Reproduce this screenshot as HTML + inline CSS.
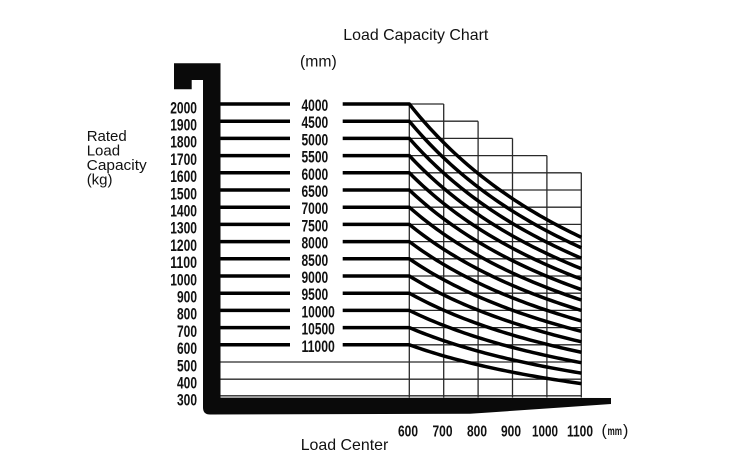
<!DOCTYPE html>
<html>
<head>
<meta charset="utf-8">
<style>
  html, body { margin:0; padding:0; background:#fff; }
  body { width:750px; height:467px; overflow:hidden; }
  svg { display:block; }
  .lbl { font-family:"Liberation Sans", sans-serif; font-weight:bold; font-size:16.3px; fill:#111; }
  .xl { font-family:"Liberation Sans", sans-serif; font-weight:bold; font-size:15.5px; fill:#111; }
  .reg { font-family:"Liberation Sans", sans-serif; font-size:16px; fill:#111; }
  .side { font-family:"Liberation Sans", sans-serif; font-size:15px; fill:#111; }
</style>
</head>
<body>
<svg id="chart" width="750" height="467" viewBox="0 0 750 467" xmlns="http://www.w3.org/2000/svg">
  <!-- titles -->
  <text class="reg" x="343.3" y="40" textLength="145" lengthAdjust="spacingAndGlyphs">Load Capacity Chart</text>
  <text class="reg" x="300" y="66.5" textLength="36.7" lengthAdjust="spacingAndGlyphs">(mm)</text>
  <text class="side" x="86.7" y="141">Rated</text>
  <text class="side" x="86.7" y="155.5">Load</text>
  <text class="side" x="86.7" y="170" textLength="60" lengthAdjust="spacingAndGlyphs">Capacity</text>
  <text class="side" x="86.7" y="184.5">(kg)</text>
  <text class="reg" x="300.7" y="450" textLength="87.6" lengthAdjust="spacingAndGlyphs">Load Center</text>

  <!-- y axis labels -->
  <g>
    <text class="lbl" x="197" y="113.3" text-anchor="end" textLength="26.8" lengthAdjust="spacingAndGlyphs">2000</text>
    <text class="lbl" x="197" y="130.5" text-anchor="end" textLength="26.8" lengthAdjust="spacingAndGlyphs">1900</text>
    <text class="lbl" x="197" y="147.7" text-anchor="end" textLength="26.8" lengthAdjust="spacingAndGlyphs">1800</text>
    <text class="lbl" x="197" y="164.9" text-anchor="end" textLength="26.8" lengthAdjust="spacingAndGlyphs">1700</text>
    <text class="lbl" x="197" y="182.1" text-anchor="end" textLength="26.8" lengthAdjust="spacingAndGlyphs">1600</text>
    <text class="lbl" x="197" y="199.3" text-anchor="end" textLength="26.8" lengthAdjust="spacingAndGlyphs">1500</text>
    <text class="lbl" x="197" y="216.5" text-anchor="end" textLength="26.8" lengthAdjust="spacingAndGlyphs">1400</text>
    <text class="lbl" x="197" y="233.7" text-anchor="end" textLength="26.8" lengthAdjust="spacingAndGlyphs">1300</text>
    <text class="lbl" x="197" y="250.9" text-anchor="end" textLength="26.8" lengthAdjust="spacingAndGlyphs">1200</text>
    <text class="lbl" x="197" y="268.1" text-anchor="end" textLength="26.8" lengthAdjust="spacingAndGlyphs">1100</text>
    <text class="lbl" x="197" y="285.3" text-anchor="end" textLength="26.8" lengthAdjust="spacingAndGlyphs">1000</text>
    <text class="lbl" x="197" y="302.5" text-anchor="end" textLength="20" lengthAdjust="spacingAndGlyphs">900</text>
    <text class="lbl" x="197" y="319.7" text-anchor="end" textLength="20" lengthAdjust="spacingAndGlyphs">800</text>
    <text class="lbl" x="197" y="336.9" text-anchor="end" textLength="20" lengthAdjust="spacingAndGlyphs">700</text>
    <text class="lbl" x="197" y="354.1" text-anchor="end" textLength="20" lengthAdjust="spacingAndGlyphs">600</text>
    <text class="lbl" x="197" y="371.3" text-anchor="end" textLength="20" lengthAdjust="spacingAndGlyphs">500</text>
    <text class="lbl" x="197" y="388.5" text-anchor="end" textLength="20" lengthAdjust="spacingAndGlyphs">400</text>
    <text class="lbl" x="197" y="405.7" text-anchor="end" textLength="20" lengthAdjust="spacingAndGlyphs">300</text>
  </g>

  <!-- series labels -->
  <g>
    <text class="lbl" x="301.5" y="111" textLength="26.7" lengthAdjust="spacingAndGlyphs">4000</text>
    <text class="lbl" x="301.5" y="128.2" textLength="26.7" lengthAdjust="spacingAndGlyphs">4500</text>
    <text class="lbl" x="301.5" y="145.4" textLength="26.7" lengthAdjust="spacingAndGlyphs">5000</text>
    <text class="lbl" x="301.5" y="162.6" textLength="26.7" lengthAdjust="spacingAndGlyphs">5500</text>
    <text class="lbl" x="301.5" y="179.8" textLength="26.7" lengthAdjust="spacingAndGlyphs">6000</text>
    <text class="lbl" x="301.5" y="197" textLength="26.7" lengthAdjust="spacingAndGlyphs">6500</text>
    <text class="lbl" x="301.5" y="214.2" textLength="26.7" lengthAdjust="spacingAndGlyphs">7000</text>
    <text class="lbl" x="301.5" y="231.4" textLength="26.7" lengthAdjust="spacingAndGlyphs">7500</text>
    <text class="lbl" x="301.5" y="248.6" textLength="26.7" lengthAdjust="spacingAndGlyphs">8000</text>
    <text class="lbl" x="301.5" y="265.8" textLength="26.7" lengthAdjust="spacingAndGlyphs">8500</text>
    <text class="lbl" x="301.5" y="283" textLength="26.7" lengthAdjust="spacingAndGlyphs">9000</text>
    <text class="lbl" x="301.5" y="300.2" textLength="26.7" lengthAdjust="spacingAndGlyphs">9500</text>
    <text class="lbl" x="301.5" y="317.4" textLength="33.3" lengthAdjust="spacingAndGlyphs">10000</text>
    <text class="lbl" x="301.5" y="334.6" textLength="33.3" lengthAdjust="spacingAndGlyphs">10500</text>
    <text class="lbl" x="301.5" y="351.8" textLength="33.3" lengthAdjust="spacingAndGlyphs">11000</text>
  </g>

  <!-- x axis labels -->
  <g>
    <text class="xl" x="408" y="436.7" text-anchor="middle" textLength="20" lengthAdjust="spacingAndGlyphs">600</text>
    <text class="xl" x="442.5" y="436.7" text-anchor="middle" textLength="20" lengthAdjust="spacingAndGlyphs">700</text>
    <text class="xl" x="477" y="436.7" text-anchor="middle" textLength="20" lengthAdjust="spacingAndGlyphs">800</text>
    <text class="xl" x="511" y="436.7" text-anchor="middle" textLength="20" lengthAdjust="spacingAndGlyphs">900</text>
    <text class="xl" x="545" y="436.7" text-anchor="middle" textLength="26" lengthAdjust="spacingAndGlyphs">1000</text>
    <text class="xl" x="580" y="436.7" text-anchor="middle" textLength="26" lengthAdjust="spacingAndGlyphs">1100</text>
    <text class="reg" x="601.5" y="435.5" style="font-size:16px">(</text>
    <text class="xl" x="607.5" y="435" style="font-size:12px" textLength="14.5" lengthAdjust="spacingAndGlyphs">mm</text>
    <text class="reg" x="623" y="435.5" style="font-size:16px">)</text>
  </g>

  <g id="grid" stroke="#2a2a2a" stroke-width="1.3" fill="none"></g>
  <g id="series" stroke="#000" stroke-width="3.5" fill="none" stroke-linecap="butt" stroke-linejoin="round"></g>

  <!-- fork shape -->
  <path d="M174,63.3 L220.5,63.3 L220.5,397.6 L470,397.8 L611,398 L611,404 Q540,409 470,413.8 L210,414.5 Q203,414.5 203,407.5 L203,80 L191.7,80 L191.7,89.3 L174,89.3 Z" fill="#0a0a0a"/>
</svg>
<script>
(function(){
  var NS = "http://www.w3.org/2000/svg";
  var grid = document.getElementById("grid");
  var series = document.getElementById("series");
  function el(tag, attrs, parent){
    var e = document.createElementNS(NS, tag);
    for (var k in attrs) e.setAttribute(k, attrs[k]);
    parent.appendChild(e);
    return e;
  }
  var X0 = 409.3, DX = 34.4, Y0 = 104, DY = 17.2;
  var xs = []; for (var j=0;j<6;j++) xs.push(X0 + DX*j);
  var rightEdge = [xs[1], xs[2], xs[3], xs[4]];
  for (var i=0;i<18;i++){
    var y = Y0 + DY*i;
    if (i===17) y = 395.8;
    var xr = i < 4 ? rightEdge[i] : xs[5];
    var xl = i >= 15 ? 220.5 : X0;
    el("line", {x1:xl, y1:y, x2:xr, y2:y}, grid);
  }
  var tops = [Y0, Y0, Y0+DY, Y0+2*DY, Y0+3*DY, Y0+4*DY];
  for (var j=0;j<6;j++){
    el("line", {x1:xs[j], y1:tops[j], x2:xs[j], y2:397.5}, grid);
  }
  for (var i=0;i<15;i++){
    var ys = Y0 + DY*i;
    var ye = 237.3 + 10.45*i;
    var Q0 = 2000 - 100*i;
    var Q1 = Q0 - (ye-ys)/0.172;
    var r = Q1/Q0;
    var d = (1100*r - 600)/(1-r);
    el("line", {x1:220, y1:ys, x2:290, y2:ys}, series);
    var pts = [[342.7, ys]];
    for (var c=600;c<=1100;c+=10){
      var q = Q0*(600+d)/(c+d);
      var y = Y0 + (2000-q)*0.172;
      var x = X0 + (c-600)*0.344;
      pts.push([x, y]);
    }
    var dstr = "M" + pts.map(function(p){return p[0].toFixed(2)+","+p[1].toFixed(2);}).join(" L");
    el("path", {d:dstr}, series);
  }
})();
</script>
</body>
</html>
